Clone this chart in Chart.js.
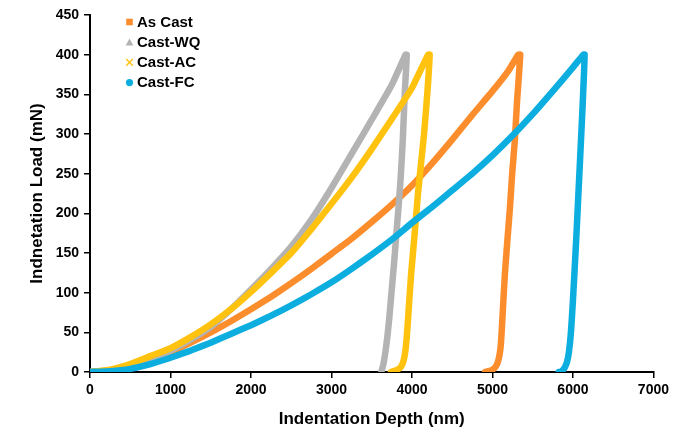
<!DOCTYPE html>
<html>
<head>
<meta charset="utf-8">
<script src="https://cdn.jsdelivr.net/npm/chart.js@4.4.0/dist/chart.umd.min.js"></script>
<style>
  html, body { margin: 0; padding: 0; background: #fff; }
  #wrap { width: 673px; height: 433px; }
</style>
</head>
<body>
<div id="wrap"><canvas id="nanoChart" width="673" height="433"></canvas></div>
<script>
// curvas de nanoindentacion: carga + descarga
const seriesNames = ['As Cast', 'Cast-WQ', 'Cast-AC', 'Cast-FC'];
const seriesColors = ['#FC8D2D', '#B3B3B3', '#FFC20E', '#0CADDF'];
const markerTypes = ['square', 'triangle', 'cross', 'circle'];

const xTicks = [0, 1000, 2000, 3000, 4000, 5000, 6000, 7000];
const yTicks = [0, 50, 100, 150, 200, 250, 300, 350, 400, 450];

// As Cast
const asCastDepth = [0, 250, 500, 750, 1000, 1250, 1500, 1750, 2000, 2250, 2500, 2750, 3000, 3250, 3500, 3750, 4000, 4250, 4500, 4750, 5000, 5200, 5320,
                     5345, 5305, 5278, 5245, 5218, 5185, 5155, 5133, 5117, 5102, 5077, 5042, 4985, 4910];
const asCastLoad  = [0, 2, 7, 15, 25, 37, 50, 64, 79, 95, 112, 130, 149, 168, 189, 211, 235, 263, 293, 324, 354, 380, 400,
                     400, 340, 292, 250, 208, 165, 124, 85, 55, 32, 16, 7, 2, 0];

// Cast-WQ
const wqDepth = [0, 250, 500, 750, 1000, 1250, 1500, 1750, 2000, 2250, 2500, 2750, 3000, 3250, 3500, 3750, 3920,
                 3935, 3910, 3885, 3860, 3835, 3807, 3780, 3750, 3720, 3695, 3670, 3645, 3620];
const wqLoad  = [0, 2, 7, 16, 27, 41, 57, 79, 104, 130, 158, 192, 232, 275, 318, 362, 400,
                 400, 350, 290, 245, 210, 175, 140, 105, 70, 45, 25, 10, 0];

// Cast-AC
const acDepth = [0, 250, 500, 750, 1000, 1250, 1500, 1750, 2000, 2250, 2500, 2750, 3000, 3250, 3500, 3750, 4000, 4200,
                 4220, 4190, 4150, 4110, 4075, 4030, 3990, 3960, 3940, 3920, 3895, 3860, 3800, 3740];
const acLoad  = [0, 3, 10, 20, 30, 44, 60, 79, 101, 125, 150, 180, 212, 245, 281, 319, 358, 400,
                 400, 350, 300, 260, 225, 170, 124, 80, 50, 28, 14, 6, 2, 0];

// Cast-FC
const fcDepth = [0, 250, 500, 750, 1000, 1250, 1500, 1750, 2000, 2250, 2500, 2750, 3000, 3250, 3500, 3750, 4000, 4250, 4500, 4750, 5000, 5250, 5500, 5750, 6000, 6130,
                 6145, 6120, 6080, 6040, 6000, 5975, 5950, 5925, 5895, 5860, 5825];
const fcLoad  = [0, 1, 4, 10, 18, 27, 37, 48, 59, 71, 84, 98, 113, 130, 148, 167, 188, 208, 229, 250, 273, 298, 325, 354, 384, 400,
                 400, 335, 250, 166, 90, 50, 25, 12, 5, 1, 0];

const depthArrays = [asCastDepth, wqDepth, acDepth, fcDepth];
const loadArrays = [asCastLoad, wqLoad, acLoad, fcLoad];

const FONT = '"Liberation Sans", Arial, sans-serif';

const toPoints = (xs, ys) => xs.map((x, i) => ({ x: x, y: ys[i] }));

const datasets = seriesNames.map((name, i) => ({
    label: name,
    data: toPoints(depthArrays[i], loadArrays[i]),
    borderColor: seriesColors[i],
    backgroundColor: seriesColors[i],
    borderWidth: 6.5,
    pointRadius: 0,
    showLine: true,
    tension: 0.15,
    borderCapStyle: 'round',
    borderJoinStyle: 'round',
    order: seriesNames.length - i   // excel: la ultima serie queda encima
}));

// leyenda dentro del area del grafico, arriba a la izquierda
const drawMarker = (ctx, type, x, y, color) => {
    ctx.fillStyle = color;
    ctx.strokeStyle = color;
    if (type === 'square') {
        ctx.fillRect(x - 3.3, y - 3.3, 6.6, 6.6);
    } else if (type === 'triangle') {
        ctx.beginPath();
        ctx.moveTo(x, y - 3.8);
        ctx.lineTo(x + 3.8, y + 3.2);
        ctx.lineTo(x - 3.8, y + 3.2);
        ctx.closePath();
        ctx.fill();
    } else if (type === 'cross') {
        ctx.lineWidth = 1.4;
        ctx.beginPath();
        ctx.moveTo(x - 3.3, y - 3.3); ctx.lineTo(x + 3.3, y + 3.3);
        ctx.moveTo(x + 3.3, y - 3.3); ctx.lineTo(x - 3.3, y + 3.3);
        ctx.stroke();
    } else {
        ctx.beginPath();
        ctx.arc(x, y, 3.6, 0, Math.PI * 2);
        ctx.fill();
    }
};

const insideLegend = {
    id: 'insideLegend',
    afterDraw(chart) {
        const ctx = chart.ctx;
        ctx.save();
        ctx.font = 'bold 15px ' + FONT;
        ctx.textBaseline = 'alphabetic';
        ctx.textAlign = 'left';
        seriesNames.forEach((name, i) => {
            const y = 22 + i * 20.2;
            drawMarker(ctx, markerTypes[i], 129.5, y, seriesColors[i]);
            ctx.fillStyle = '#000';
            ctx.fillText(name, 137, y + 4.8);
        });
        ctx.restore();
    }
};

new Chart('nanoChart', {
    type: 'scatter',
    data: { datasets },
    options: {
        responsive: false,
        animation: false,
        layout: { padding: { left: 0, right: 18, top: 15, bottom: 0 } },
        plugins: {
            legend: { display: false },
            tooltip: { enabled: false }
        },
        scales: {
            x: {
                type: 'linear',
                min: 0,
                max: 7000,
                afterBuildTicks: scale => { scale.ticks = xTicks.map(v => ({ value: v })); },
                afterFit: scale => { scale.height = 61; },
                ticks: {
                    color: '#000',
                    padding: 4,
                    font: { family: FONT, size: 14, weight: 'bold' },
                    callback: v => String(v)
                },
                grid: { drawOnChartArea: false, drawTicks: true, tickLength: 6, color: '#000', lineWidth: 1.5 },
                border: { display: true, color: '#000', width: 2 },
                title: {
                    display: true,
                    text: 'Indentation Depth (nm)',
                    color: '#000',
                    font: { family: FONT, size: 17, weight: 'bold' },
                    padding: { top: 0, bottom: 3 }
                }
            },
            y: {
                type: 'linear',
                min: 0,
                max: 450,
                afterBuildTicks: scale => { scale.ticks = yTicks.map(v => ({ value: v })); },
                afterFit: scale => { scale.width = 90; },
                ticks: {
                    color: '#000',
                    padding: 5,
                    font: { family: FONT, size: 14, weight: 'bold' },
                    callback: v => String(v)
                },
                grid: { drawOnChartArea: false, drawTicks: true, tickLength: 6, color: '#000', lineWidth: 1.5 },
                border: { display: true, color: '#000', width: 2 },
                title: {
                    display: true,
                    text: 'Indnetation Load (mN)',
                    color: '#000',
                    font: { family: FONT, size: 17, weight: 'bold' },
                    padding: { top: 27, bottom: 0 }
                }
            }
        }
    },
    plugins: [insideLegend]
});
</script>
</body>
</html>
